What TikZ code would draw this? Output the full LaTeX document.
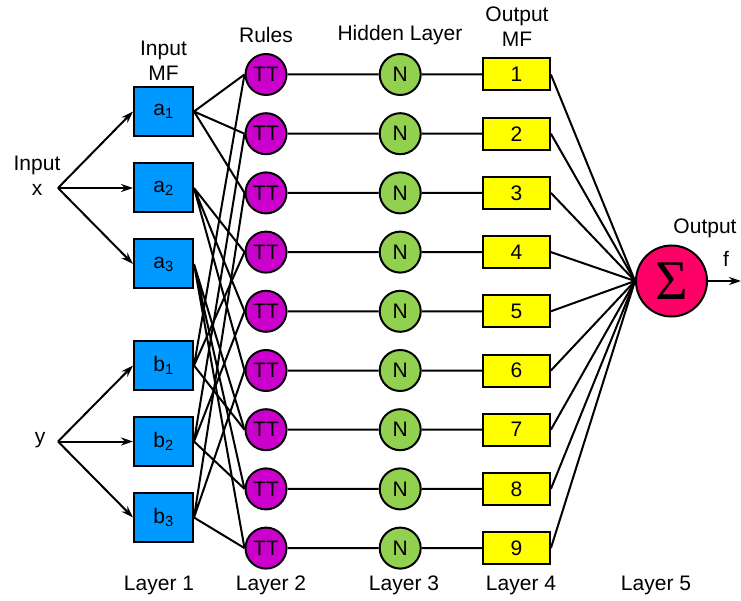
\documentclass[tikz,border=0pt]{standalone}
\usepackage{fontspec}
\setmainfont{Liberation Sans}
\newfontfamily\sigmafont{Liberation Serif}
\usepackage{xcolor}
\usepackage{tikz}
\usetikzlibrary{shapes.geometric, arrows.meta}
\definecolor{mfblue}{HTML}{0099FF}
\definecolor{rulepink}{HTML}{CC00CC}
\definecolor{hiddengreen}{HTML}{92D050}
\definecolor{outyellow}{HTML}{FFFF00}
\definecolor{sumred}{HTML}{FF0066}
\tikzstyle{inputmf} = [rectangle, 
minimum width=59pt, 
minimum height=49pt, 
text centered, 
draw=black, 
line width=2pt, 
fill=mfblue]
\tikzstyle{rulenode} = [circle, 
minimum size=41pt, 
inner sep=0pt, 
text centered, 
draw=black, 
line width=2pt, 
fill=rulepink]
\tikzstyle{hidden} = [circle, 
minimum size=41pt, 
inner sep=0pt, 
text centered, 
draw=black, 
line width=2pt, 
fill=hiddengreen]
\tikzstyle{outputmf} = [rectangle, 
minimum width=67pt, 
minimum height=32pt, 
text centered, 
draw=black, 
line width=2pt, 
fill=outyellow]
\tikzstyle{sumnode} = [circle, 
minimum size=71pt, 
inner sep=0pt, 
draw=black, 
line width=2pt, 
fill=sumred, 
font=\sigmafont\fontsize{56}{56}\selectfont]
\tikzstyle{layertext} = [align=center]
\tikzstyle{arrow} = [line width=2pt,-{Stealth[length=12pt,width=8pt]}]
\tikzstyle{link} = [line width=2pt]

\begin{document}
\begin{tikzpicture}[x=1pt, y=-1pt, node distance=59.2pt,
  every node/.style={font=\fontsize{21}{25}\selectfont}]
\useasboundingbox (0,0) rectangle (741,601);

% Layer 1
\node (a1) [inputmf] at (163.5,111.5) {a\textsubscript{1}};
\node (a2) [inputmf] at (163.5,188) {a\textsubscript{2}};
\node (a3) [inputmf] at (163.5,264) {a\textsubscript{3}};
\node (b1) [inputmf] at (163.5,365.5) {b\textsubscript{1}};
\node (b2) [inputmf] at (163.5,441.5) {b\textsubscript{2}};
\node (b3) [inputmf] at (163.5,517.5) {b\textsubscript{3}};

% Layer 2
\node (r1) [rulenode] at (266,74.5) {TT};
\node (r2) [rulenode, below of=r1] {TT};
\node (r3) [rulenode, below of=r2] {TT};
\node (r4) [rulenode, below of=r3] {TT};
\node (r5) [rulenode, below of=r4] {TT};
\node (r6) [rulenode, below of=r5] {TT};
\node (r7) [rulenode, below of=r6] {TT};
\node (r8) [rulenode, below of=r7] {TT};
\node (r9) [rulenode, below of=r8] {TT};

% Layer 3
\node (n1) [hidden, right of=r1, xshift=75pt] {N};
\node (n2) [hidden, right of=r2, xshift=75pt] {N};
\node (n3) [hidden, right of=r3, xshift=75pt] {N};
\node (n4) [hidden, right of=r4, xshift=75pt] {N};
\node (n5) [hidden, right of=r5, xshift=75pt] {N};
\node (n6) [hidden, right of=r6, xshift=75pt] {N};
\node (n7) [hidden, right of=r7, xshift=75pt] {N};
\node (n8) [hidden, right of=r8, xshift=75pt] {N};
\node (n9) [hidden, right of=r9, xshift=75pt] {N};

% Layer 4
\node (o1) [outputmf, right of=n1, xshift=57pt] {1};
\node (o2) [outputmf, right of=n2, xshift=57pt] {2};
\node (o3) [outputmf, right of=n3, xshift=57pt] {3};
\node (o4) [outputmf, right of=n4, xshift=57pt] {4};
\node (o5) [outputmf, right of=n5, xshift=57pt] {5};
\node (o6) [outputmf, right of=n6, xshift=57pt] {6};
\node (o7) [outputmf, right of=n7, xshift=57pt] {7};
\node (o8) [outputmf, right of=n8, xshift=57pt] {8};
\node (o9) [outputmf, right of=n9, xshift=57pt] {9};

% Layer 5
\node (sum) [sumnode] at (671.5,281) {Σ};

% texts
\node (inx_text) [layertext] at (37,175.5) {Input\\x};
\node (iny_text) at (40,440) {y};
\node (inmf_text) [layertext] at (163.5,61) {Input\\MF};
\node (rules_text) at (266,35) {Rules};
\node (hidden_text) at (400,35) {Hidden Layer};
\node (outmf_text) [layertext] at (517,27) {Output\\MF};
\node (output_text) at (705,228) {Output};
\node (f_text) at (726,259) {f};
\node (layer1) at (159,585) {Layer 1};
\node (layer2) at (271,585) {Layer 2};
\node (layer3) at (404,585) {Layer 3};
\node (layer4) at (521,585) {Layer 4};
\node (layer5) at (656,585) {Layer 5};

\coordinate (inx) at (58,188);
\coordinate (iny) at (58,441.5);
\coordinate (fout) at (741,281);

\draw [arrow] (inx) -- (a1.west);
\draw [arrow] (inx) -- (a2.west);
\draw [arrow] (inx) -- (a3.west);
\draw [arrow] (iny) -- (b1.west);
\draw [arrow] (iny) -- (b2.west);
\draw [arrow] (iny) -- (b3.west);

\draw [link] (a1.east) -- (r1.west) (a1.east) -- (r2.west) (a1.east) -- (r3.west);
\draw [link] (a2.east) -- (r4.west) (a2.east) -- (r5.west) (a2.east) -- (r6.west);
\draw [link] (a3.east) -- (r7.west) (a3.east) -- (r8.west) (a3.east) -- (r9.west);
\draw [link] (b1.east) -- (r1.west) (b1.east) -- (r4.west) (b1.east) -- (r7.west);
\draw [link] (b2.east) -- (r2.west) (b2.east) -- (r5.west) (b2.east) -- (r8.west);
\draw [link] (b3.east) -- (r3.west) (b3.east) -- (r6.west) (b3.east) -- (r9.west);

\draw [link] (r1) -- (n1) -- (o1) (o1.east) -- (sum.west);
\draw [link] (r2) -- (n2) -- (o2) (o2.east) -- (sum.west);
\draw [link] (r3) -- (n3) -- (o3) (o3.east) -- (sum.west);
\draw [link] (r4) -- (n4) -- (o4) (o4.east) -- (sum.west);
\draw [link] (r5) -- (n5) -- (o5) (o5.east) -- (sum.west);
\draw [link] (r6) -- (n6) -- (o6) (o6.east) -- (sum.west);
\draw [link] (r7) -- (n7) -- (o7) (o7.east) -- (sum.west);
\draw [link] (r8) -- (n8) -- (o8) (o8.east) -- (sum.west);
\draw [link] (r9) -- (n9) -- (o9) (o9.east) -- (sum.west);

\draw [arrow] (sum) -- (fout);

\end{tikzpicture}
\end{document}
